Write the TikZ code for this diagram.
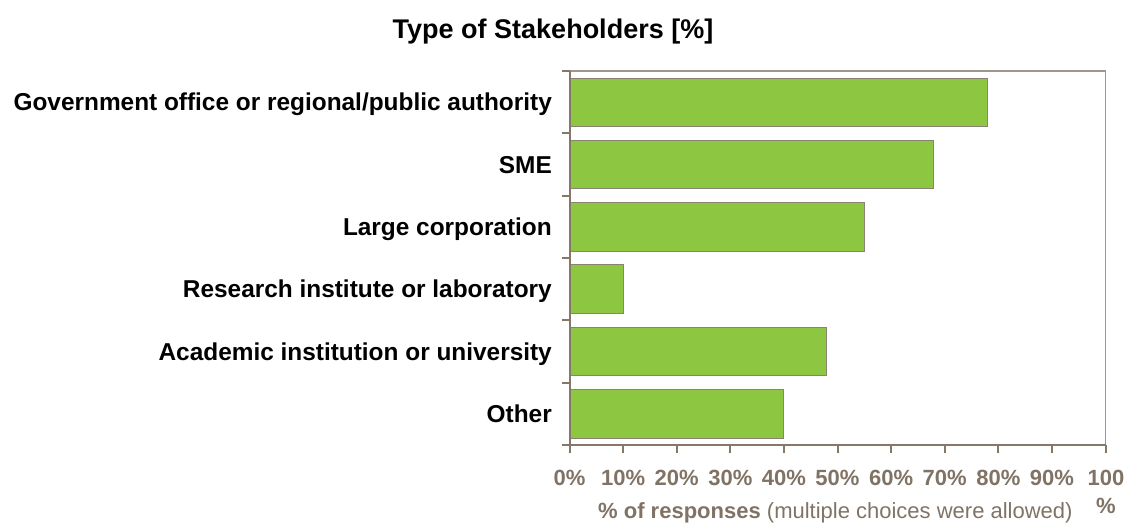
\documentclass[tikz,border=0pt]{standalone}
\usepackage{fontspec}
\setmainfont{Liberation Sans}
\definecolor{axiscol}{RGB}{133,120,105}
\definecolor{framecol}{RGB}{160,150,140}
\definecolor{tickcol}{RGB}{128,115,101}
\definecolor{barfill}{RGB}{141,198,65}
\definecolor{baredge}{RGB}{138,130,115}
\tikzset{
  catlabel/.style={anchor=base east, inner sep=0pt, font=\fontsize{24.4}{28}\selectfont\bfseries, text=black},
  ticklabel/.style={anchor=base, inner sep=0pt, font=\fontsize{22}{26}\selectfont\bfseries, text=tickcol},
  barbox/.style={fill=barfill, draw=baredge, line width=1pt},
  axisline/.style={draw=axiscol, line width=2pt},
}
\begin{document}
\begin{tikzpicture}[x=1pt,y=-1pt]
\useasboundingbox (0,0) rectangle (1126,523);
% title
\node[anchor=base, inner sep=0pt, font=\fontsize{27}{30}\selectfont\bfseries] (title) at (553,38.5) {Type of Stakeholders [\%]};
% plot frame (top and right)
\draw[framecol, line width=1.2pt] (569.5,71) -- (1105.5,71) -- (1105.5,445);
% bars
\foreach \i/\v in {0/78,1/68,2/55,3/10,4/48,5/40}{
  \pgfmathsetmacro{\c}{102.2+62.33*\i}
  \pgfmathsetmacro{\xe}{569.5+5.36*\v}
  \draw[barbox] (569.5,\c-24.2) rectangle (\xe,\c+24.2);
}
% axes
\draw[axisline] (569.5,71) -- (569.5,445) -- (1105.5,445);
\foreach \k in {0,...,6}{
  \draw[axisline] (561.5,71+62.33*\k) -- (569.5,71+62.33*\k);
}
\foreach \k in {0,...,10}{
  \draw[axisline] (569.5+53.6*\k,445) -- (569.5+53.6*\k,452.5);
}
% category labels
\node[catlabel] (l0) at (552,110.8) {Government office or regional/public authority};
\node[catlabel] (l1) at (552,173.1) {SME};
\node[catlabel] (l2) at (552,235.4) {Large corporation};
\node[catlabel] (l3) at (552,297.7) {Research institute or laboratory};
\node[catlabel] (l4) at (552,360.0) {Academic institution or university};
\node[catlabel] (l5) at (552,422.3) {Other};
% tick labels
\foreach \k/\t in {0/0,1/10,2/20,3/30,4/40,5/50,6/60,7/70,8/80,9/90}{
  \node[ticklabel] (t\k) at (569.5+53.6*\k,485) {\t\%};
}
\node[ticklabel] (t10) at (1106,485) {100};
\node[ticklabel] (t10b) at (1106,513) {\%};
% axis title
\node[anchor=base west, inner sep=0pt, font=\fontsize{22}{26}\selectfont, text=tickcol] (xtitle) at (598,518) {\textbf{\% of responses} (multiple choices were allowed)};
\end{tikzpicture}
\end{document}
